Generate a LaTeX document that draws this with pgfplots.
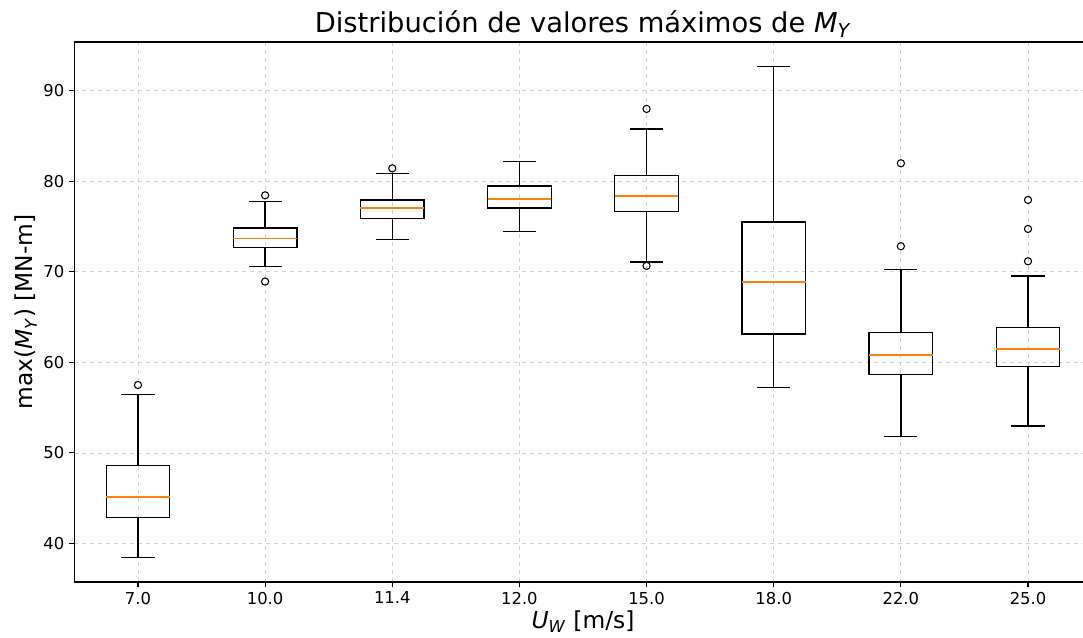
\documentclass[border=0pt]{standalone}
\usepackage{fontspec}
\setmainfont{DejaVu Sans}
\usepackage{pgfplots}
\usepgfplotslibrary{statistics}
\pgfplotsset{compat=1.18}
\definecolor{mplorange}{HTML}{FF7F0E}
\pgfplotsset{
  boxplot/draw direction=y,
  boxplot/every median/.style={draw=mplorange, solid, line width=1.3pt},
  mybox/.style={draw=black, solid, line width=1pt, mark=o, mark size=2.7pt, mark options={draw=black, fill=none, line width=0.8pt, solid}},
}
\begin{document}
\begin{tikzpicture}
\begin{axis}[
  at={(0,0)}, anchor=south west, scale only axis,
  width=762.9pt, height=405pt,
  xmin=-0.5, xmax=7.5, ymin=35.75, ymax=95.37,
  xtick={0,...,7}, xticklabels={7.0,10.0,11.4,12.0,15.0,18.0,22.0,25.0},
  ytick={40,50,...,90},
  tick align=outside, tick pos=left, major tick length=4pt,
  tick style={black, line width=0.8pt},
  axis line style={black, line width=0.8pt},
  grid=major, grid style={dashed, gray!35, line width=0.6pt},
  ticklabel style={font=\fontsize{12.3}{14}\selectfont},
  /pgf/number format/assume math mode=true,
  boxplot/draw direction=y,
  title={Distribución de valores máximos de \textit{M}\textsubscript{\textit{Y}}},
  title style={at={(axis description cs:0.5,1)}, anchor=base, yshift=1pt, font=\fontsize{20.5}{24}\selectfont},
  xlabel={\textit{U}\textsubscript{\textit{W}} [m/s]},
  ylabel={max(\textit{M}\textsubscript{\textit{Y}}) [MN-m]},
  x label style={at={(axis description cs:0.5,-0.074)}, anchor=center, font=\fontsize{17.5}{20}\selectfont},
  y label style={at={(axis description cs:-0.0475,0.5)}, anchor=center, font=\fontsize{17.5}{20}\selectfont},
]
\addplot[mybox, boxplot prepared={draw position=0, lower whisker=38.45, lower quartile=42.84, median=45.15, upper quartile=48.6, upper whisker=56.45, box extend=0.5, whisker extend=0.26}] coordinates {(0,57.5)};
\addplot[mybox, boxplot prepared={draw position=1, lower whisker=70.57, lower quartile=72.67, median=73.66, upper quartile=74.85, upper whisker=77.75, box extend=0.5, whisker extend=0.26}] coordinates {(1,78.44) (1,68.92)};
\addplot[mybox, boxplot prepared={draw position=2, lower whisker=73.59, lower quartile=75.87, median=77.05, upper quartile=77.93, upper whisker=80.84, box extend=0.5, whisker extend=0.26}] coordinates {(2,81.42)};
\addplot[mybox, boxplot prepared={draw position=3, lower whisker=74.47, lower quartile=77.05, median=78.0, upper quartile=79.48, upper whisker=82.16, box extend=0.5, whisker extend=0.26}] coordinates {};
\addplot[mybox, boxplot prepared={draw position=4, lower whisker=71.09, lower quartile=76.64, median=78.35, upper quartile=80.62, upper whisker=85.77, box extend=0.5, whisker extend=0.26}] coordinates {(4,87.98) (4,70.65)};
\addplot[mybox, boxplot prepared={draw position=5, lower whisker=57.22, lower quartile=63.14, median=68.84, upper quartile=75.5, upper whisker=92.65, box extend=0.5, whisker extend=0.26}] coordinates {};
\addplot[mybox, boxplot prepared={draw position=6, lower whisker=51.85, lower quartile=58.69, median=60.79, upper quartile=63.32, upper whisker=70.28, box extend=0.5, whisker extend=0.26}] coordinates {(6,81.98) (6,72.82)};
\addplot[mybox, boxplot prepared={draw position=7, lower whisker=52.99, lower quartile=59.54, median=61.49, upper quartile=63.88, upper whisker=69.55, box extend=0.5, whisker extend=0.26}] coordinates {(7,77.93) (7,74.73) (7,71.16)};
\end{axis}
\pgfresetboundingbox
\path[use as bounding box] (-55.8pt,-42pt) rectangle (756.45pt,436.5pt);
\end{tikzpicture}
\end{document}
